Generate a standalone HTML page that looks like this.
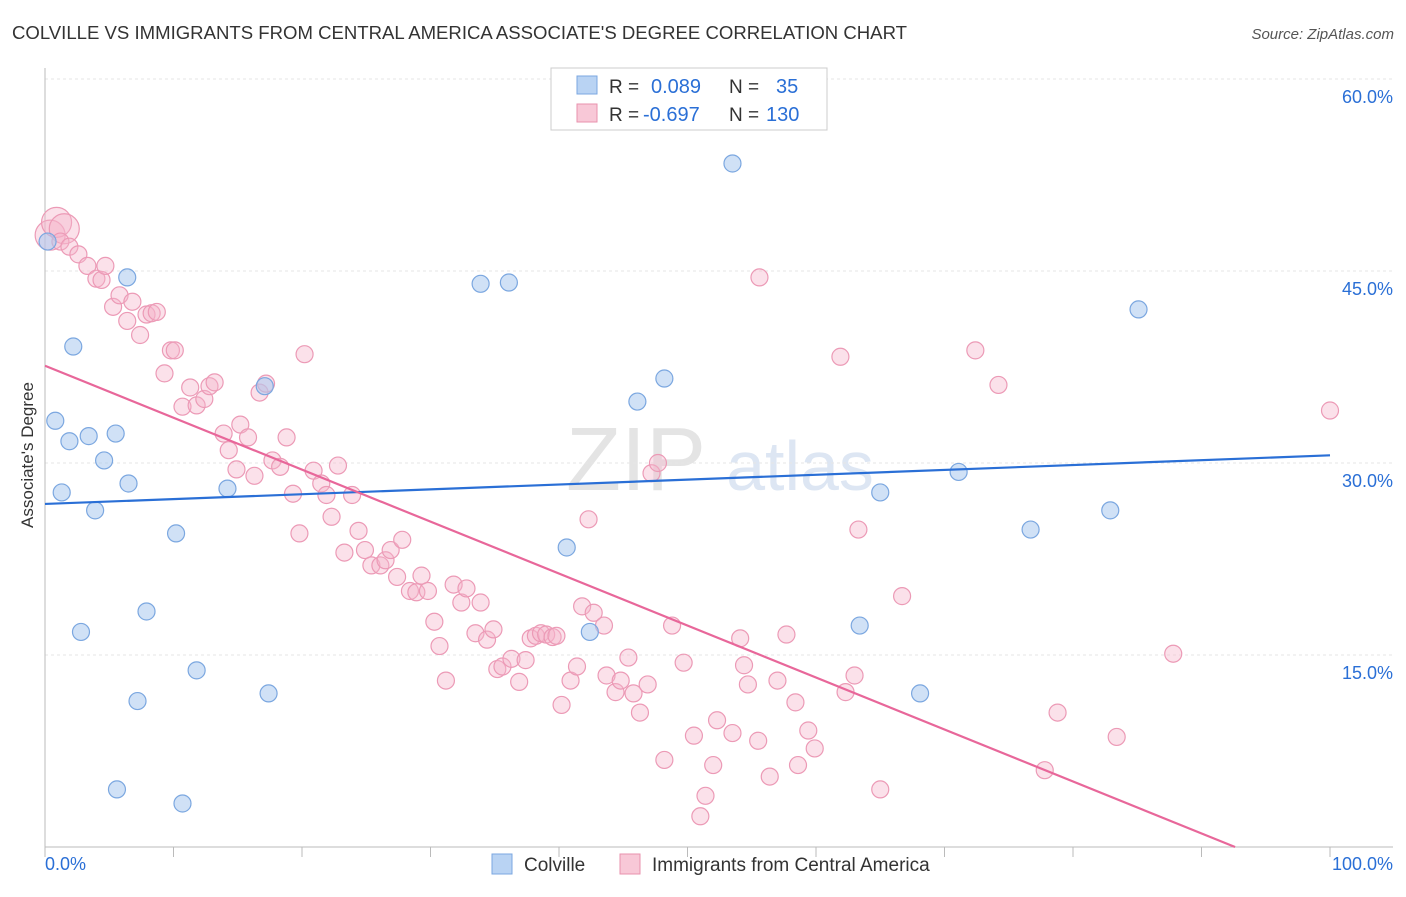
<!DOCTYPE html>
<html><head><meta charset="utf-8"><style>
body{margin:0;background:#fff;font-family:"Liberation Sans",sans-serif;}
svg text{font-family:"Liberation Sans",sans-serif;}
</style></head><body>
<svg id="chart" width="1406" height="892">
<text x="12" y="39" font-size="18" fill="#333" textLength="895" lengthAdjust="spacingAndGlyphs">COLVILLE VS IMMIGRANTS FROM CENTRAL AMERICA ASSOCIATE'S DEGREE CORRELATION CHART</text>
<text x="1394" y="39" font-size="15" fill="#555" text-anchor="end" font-style="italic">Source: ZipAtlas.com</text>
<text x="33" y="455" font-size="17" fill="#333" text-anchor="middle" transform="rotate(-90 33 455)">Associate's Degree</text>
<text x="636" y="490" font-size="90" fill="#e4e4e4" font-family="Liberation Serif" text-anchor="middle">ZIP</text>
<text x="800" y="490" font-size="70" fill="#dde6f3" text-anchor="middle">atlas</text>
<g id="grid"></g><g id="axes"></g><g id="pts"></g><g id="lines"></g>
<g>
<rect x="551" y="68" width="276" height="62" fill="#fff" stroke="#ccc"/>
<rect x="577" y="76" width="20" height="18" fill="#b9d3f3" stroke="#7ba7e0"/>
<rect x="577" y="104" width="20" height="18" fill="#f8c8d7" stroke="#e892ae"/>
<text x="609" y="93" font-size="19" fill="#333">R = </text><text x="651" y="93" font-size="20" fill="#2a6fd6">0.089</text>
<text x="729" y="93" font-size="19" fill="#333">N = </text><text x="776" y="93" font-size="20" fill="#2a6fd6">35</text>
<text x="609" y="121" font-size="19" fill="#333">R = </text><text x="643" y="121" font-size="20" fill="#2a6fd6">-0.697</text>
<text x="729" y="121" font-size="19" fill="#333">N = </text><text x="766" y="121" font-size="20" fill="#2a6fd6">130</text>
</g>
<g>
<rect x="492" y="854" width="20" height="20" fill="#b9d3f3" stroke="#7ba7e0"/>
<text x="524" y="871" font-size="19" fill="#333">Colville</text>
<rect x="620" y="854" width="20" height="20" fill="#f8c8d7" stroke="#e892ae"/>
<text x="652" y="871" font-size="19" fill="#333">Immigrants from Central America</text>
</g>
</svg>
<script>
const yTicks=[15,30,45,60];
const xTickVals=[0,10,20,30,40,50,60,70,80,90,100];
const blueX=[0.2,0.8,1.3,1.9,2.2,2.8,3.4,3.9,4.6,5.5,5.6,6.4,6.5,7.2,7.9,10.2,10.7,11.8,14.2,17.1,17.4,33.9,36.1,40.6,42.4,46.1,48.2,53.5,63.4,65.0,68.1,71.1,76.7,82.9,85.1];
const blueY=[47.3,33.3,27.7,31.7,39.1,16.8,32.1,26.3,30.2,32.3,4.5,44.5,28.4,11.4,18.4,24.5,3.4,13.8,28.0,36.0,12.0,44.0,44.1,23.4,16.8,34.8,36.6,53.4,17.3,27.7,12.0,29.3,24.8,26.3,42.0];
const pinkX=[0.4,0.9,1.5,1.2,1.9,2.6,3.3,4.0,4.4,4.7,5.3,5.8,6.4,6.8,7.4,7.9,8.3,8.7,9.8,10.1,9.3,10.7,11.3,11.8,12.4,12.8,13.2,13.9,14.3,14.9,15.2,15.8,16.3,16.7,17.2,17.7,18.3,18.8,19.3,19.8,20.2,20.9,21.5,21.9,22.3,22.8,23.3,23.9,24.4,24.9,25.4,26.1,26.5,26.9,27.4,27.8,28.4,28.9,29.3,29.8,30.3,30.7,31.2,31.8,32.4,32.8,33.5,33.9,34.4,34.9,35.2,35.6,36.3,36.9,37.4,37.8,38.2,38.6,39.0,39.5,39.8,40.2,40.9,41.4,41.8,42.3,42.7,43.5,43.7,44.4,44.8,45.4,45.8,46.3,46.9,47.2,47.7,48.2,48.8,49.7,50.5,51.0,51.4,52.0,52.3,53.5,54.1,54.4,54.7,55.5,55.6,56.4,57.0,57.7,58.4,58.6,59.4,59.9,61.9,62.3,63.0,63.3,65.0,66.7,72.4,74.2,77.8,78.8,83.4,87.8,100.0];
const pinkY=[47.8,48.8,48.3,47.3,46.9,46.3,45.4,44.4,44.3,45.4,42.2,43.1,41.1,42.6,40.0,41.6,41.7,41.8,38.8,38.8,37.0,34.4,35.9,34.5,35.0,36.0,36.3,32.3,31.0,29.5,33.0,32.0,29.0,35.5,36.2,30.2,29.7,32.0,27.6,24.5,38.5,29.4,28.4,27.5,25.8,29.8,23.0,27.5,24.7,23.2,22.0,22.0,22.4,23.2,21.1,24.0,20.0,19.9,21.2,20.0,17.6,15.7,13.0,20.5,19.1,20.2,16.7,19.1,16.2,17.0,13.9,14.1,14.7,12.9,14.6,16.3,16.5,16.7,16.6,16.4,16.5,11.1,13.0,14.1,18.8,25.6,18.3,17.3,13.4,12.1,13.0,14.8,12.0,10.5,12.7,29.2,30.0,6.8,17.3,14.4,8.7,2.4,4.0,6.4,9.9,8.9,16.3,14.2,12.7,8.3,44.5,5.5,13.0,16.6,11.3,6.4,9.1,7.7,38.3,12.1,13.4,24.8,4.5,19.6,38.8,36.1,6.0,10.5,8.6,15.1,34.1];
const pinkBig=[0,1,2];
const blueTrend=[26.8,30.6];
const pinkTrend=[37.6,-3.0];
const NS='http://www.w3.org/2000/svg';
const X0=45,X1=1330,Y0=847,YTOP=79;
const sx=v=>X0+(X1-X0)*v/100;
const sy=v=>Y0-(Y0-YTOP)*v/60;
function mk(tag,attrs,parent){const e=document.createElementNS(NS,tag);for(const k in attrs)e.setAttribute(k,attrs[k]);parent.appendChild(e);return e;}
const grid=document.getElementById('grid'),axes=document.getElementById('axes'),pts=document.getElementById('pts'),lines=document.getElementById('lines');
yTicks.forEach(t=>{
 const l=mk('line',{x1:X0,x2:1393,y1:sy(t),y2:sy(t),stroke:'#e6e6e6','stroke-dasharray':'3,3'},grid);
 
 
 const tx=mk('text',{x:1393,y:sy(t)+24,'font-size':18,fill:'#2a6fd6','text-anchor':'end'},grid);
 tx.textContent=t.toFixed(1)+'%';
 
 
});
const ax=mk('line',{x1:X0,x2:X0,y1:68,y2:Y0,stroke:'#bbb'},axes);


const bx=mk('line',{x1:X0,x2:1393,y1:Y0,y2:Y0,stroke:'#bbb'},axes);


xTickVals.forEach(t=>{
 const l=mk('line',{x1:sx(t),x2:sx(t),y1:Y0,y2:Y0+10,stroke:'#bbb'},axes);
 
 
});
[[0,'0.0%','start',45],[100,'100.0%','end',1393]].forEach(a=>{
 const tx=mk('text',{x:a[3],y:870,'font-size':18,fill:'#2a6fd6','text-anchor':a[2]},axes);
 tx.textContent=a[1];
 
 
});
pinkX.forEach((v,i)=>{
 const c=mk('circle',{cx:sx(v),cy:sy(pinkY[i]),r:pinkBig.includes(i)?15:8.5,fill:'rgba(245,180,202,0.4)',stroke:'#ec9ab6','stroke-width':1.2},pts);
 
 
});
blueX.forEach((v,i)=>{
 const c=mk('circle',{cx:sx(v),cy:sy(blueY[i]),r:8.5,fill:'rgba(170,200,239,0.55)',stroke:'#7ba7e0','stroke-width':1.2},pts);
 
 
});
const bl=mk('line',{x1:sx(0),y1:sy(blueTrend[0]),x2:sx(100),y2:sy(blueTrend[1]),stroke:'#2a6fd6','stroke-width':2.2},lines);


const xz=100*pinkTrend[0]/(pinkTrend[0]-pinkTrend[1]);
const pl=mk('line',{x1:sx(0),y1:sy(pinkTrend[0]),x2:sx(Math.min(100,xz)),y2:sy(Math.max(0,pinkTrend[0]+(pinkTrend[1]-pinkTrend[0])*Math.min(100,xz)/100)),stroke:'#e8679a','stroke-width':2.2},lines);


</script>
</body></html>
